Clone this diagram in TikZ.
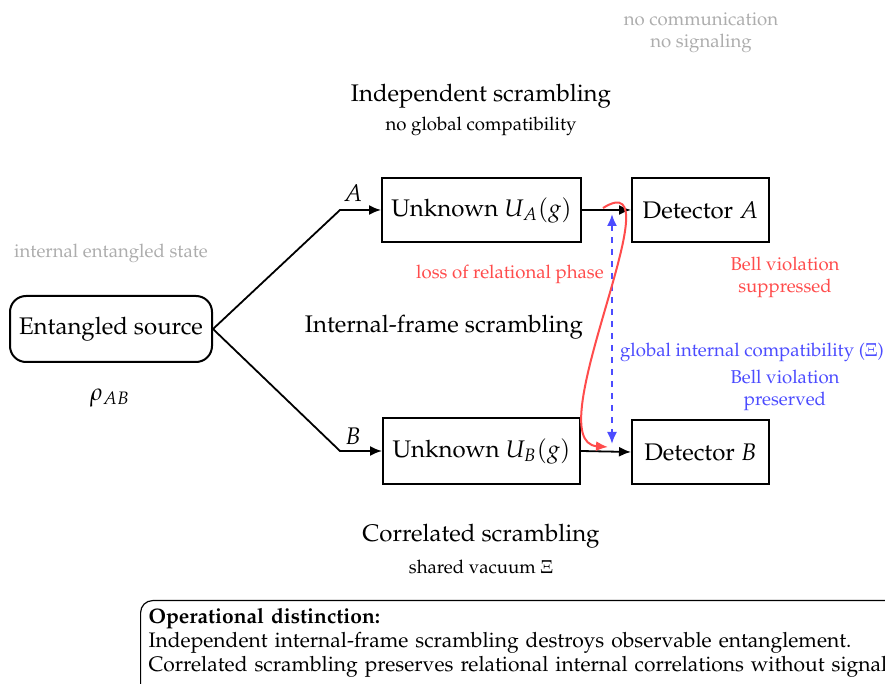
\documentclass[tikz,border=0pt]{standalone}
\usepackage[T1]{fontenc}
\usepackage{mathpazo}
\usetikzlibrary{arrows.meta}
\newcommand{\smalltext}{\fontsize{9.3pt}{11pt}\selectfont}

\begin{document}
\begin{tikzpicture}[x=0.5pt,y=-0.5pt,
    box/.style={draw,line width=1pt,font=\large,inner sep=0pt},
    link/.style={line width=0.9pt,-{Latex[length=6pt,width=5pt]}},
    faint/.style={black!32,font=\smalltext,align=center}]
    \useasboundingbox (0,0) rectangle (885,684);

    % boxes
    \node[box,rounded corners=8pt,minimum width=101pt,minimum height=33pt] (src) at (111,329) {Entangled source};
    \node[box,minimum width=99.5pt,minimum height=32pt] (ua) at (481.5,210) {Unknown $U_A(g)$};
    \node[box,minimum width=98.5pt,minimum height=33pt] (ub) at (481.5,451) {Unknown $U_B(g)$};
    \node[box,minimum width=68.5pt,minimum height=32pt] (da) at (700.5,210) {Detector $A$};
    \node[box,minimum width=68.5pt,minimum height=32pt] (db) at (700.5,452) {Detector $B$};

    % labels
    \node[faint] (nocom) at (701,33) {no communication\\no signaling};
    \node[font=\large] (indep) at (481,96) {Independent scrambling};
    \node[font=\smalltext] (noglob) at (481,126) {no global compatibility};
    \node[faint] (intstate) at (111,253) {internal entangled state};
    \node[font=\large] (rho) at (110,398) {$\rho_{AB}$};
    \node[font=\large] (iframe) at (444,327) {Internal-frame scrambling};
    \node[font=\large] (corr) at (481,536) {Correlated scrambling};
    \node[font=\smalltext] (vac) at (481,567) {shared vacuum $\Xi$};
    \node[red!70,font=\smalltext] (loss) at (510,274) {loss of relational phase};
    \node[red!70,font=\smalltext,align=center] (supp) at (785,277) {Bell violation\\suppressed};
    \node[blue!70,font=\smalltext] (glob) at (752,352) {global internal compatibility ($\Xi$)};
    \node[blue!70,font=\smalltext,align=center] (pres) at (785,390) {Bell violation\\preserved};

    % branches
    \coordinate (ka) at (340,210);
    \coordinate (kb) at (340,451);
    \draw[link] (src.east) -- (ka) -- (ua.west);
    \draw[link] (src.east) -- (kb) -- (ub.west);
    \node (la) at (353,193) {\large $A$};
    \node (lb) at (353,436) {\large $B$};
    \draw[link] (ua.east) -- (da.west);
    \draw[link] (ub.east) -- (db.west);

    % compatibility and phase
    \coordinate (ga) at (612,214);
    \coordinate (gb) at (612,444);
    \draw[blue!70,line width=1pt,dashed,{Latex[length=6pt,width=5pt]}-{Latex[length=6pt,width=5pt]}] (ga) -- (gb);
    \coordinate (ra) at (603,208);
    \coordinate (rb) at (608,447);
    \draw[red!70,line width=1pt,-{Latex[length=6pt,width=5pt]}] (ra) .. controls (680,160) and (535,442) .. (rb);

    % note
    \node[draw,line width=0.6pt,rounded corners=6pt,anchor=north west,align=left,text width=460pt,
        inner sep=4pt,font=\fontsize{10.5pt}{12pt}\selectfont] (note) at (140,600)
        {\textbf{Operational distinction:}\\
        Independent internal-frame scrambling destroys observable entanglement.\\
        Correlated scrambling preserves relational internal correlations without signaling.\rule[-14pt]{0pt}{0pt}};
\end{tikzpicture}
\end{document}
